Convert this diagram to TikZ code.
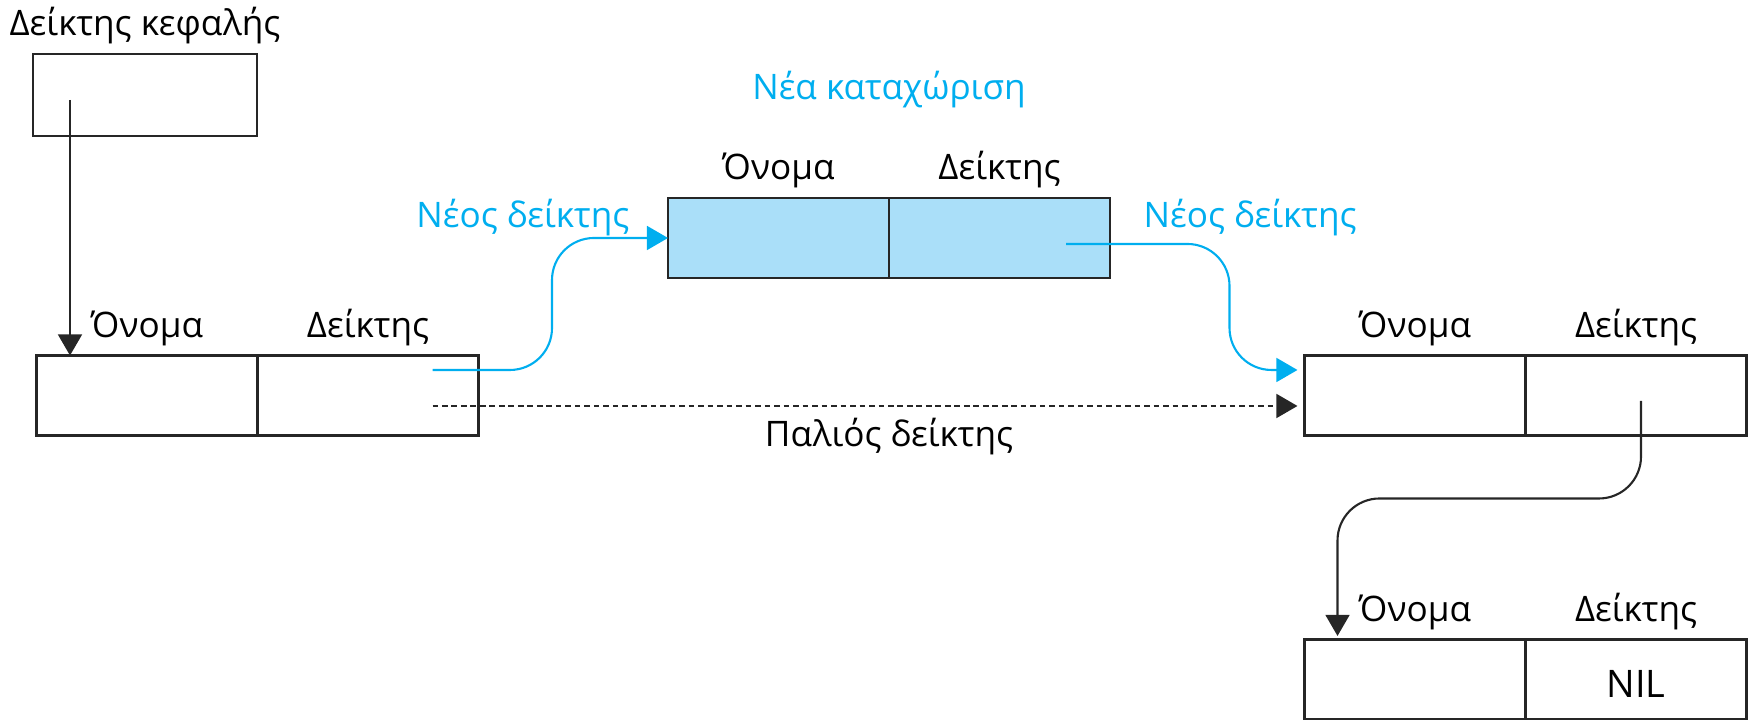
\documentclass[tikz,border=0pt]{standalone}
\usepackage{fontspec}
\setmainfont{Open Sans}
\usetikzlibrary{arrows.meta,positioning,calc}
\definecolor{newblue}{RGB}{0,174,239}
\definecolor{newfill}{RGB}{170,223,249}
\tikzset{
    %Define standard arrow tip
    >={Triangle[length=6pt,width=6.8pt]},
    txt/.style={
      font=\fontsize{10}{12}\selectfont,
      inner sep=0pt},
    newtxt/.style={
      txt,
      text=newblue},
    cell/.style={
      rectangle,
      draw=black!85, line width=0.8pt,
      minimum width=2.21cm,
      minimum height=0.8cm,
      inner sep=0pt, outer sep=0pt},
    newcell/.style={
      cell,
      fill=newfill},
    ptr/.style={
      ->, draw=black!85, line width=0.6pt,
      rounded corners=0.42cm},
    newptr/.style={
      ptr,
      draw=newblue},
    oldptr/.style={
      ->, draw=black!85, line width=0.6pt,
      dash pattern=on 1.6pt off 1.1pt},
}

\begin{document}
\begin{tikzpicture}
    \useasboundingbox (0,0) rectangle (17.5,7.2);
    % head pointer
    \node (head) [cell, minimum width=2.24cm, minimum height=0.82cm] at (1.45,6.25)
          {};
    \node (headlbl) [txt] [above=0.18cm of head, anchor=base]
          {Δείκτης κεφαλής};
    % old first entry
    \node (l1name) [cell] at (1.47,3.245)
          {};
    \node (l1ptr) [cell] [right=0pt of l1name]
          {};
    \node (l1namelbl) [txt] [above=0.18cm of l1name, anchor=base]
          {Όνομα};
    \node (l1ptrlbl) [txt] [above=0.18cm of l1ptr, anchor=base]
          {Δείκτης};
    % new entry
    \node (n1name) [newcell] at (7.785,4.82)
          {};
    \node (n1ptr) [newcell] [right=0pt of n1name]
          {};
    \node (n1namelbl) [txt] [above=0.18cm of n1name, anchor=base]
          {Όνομα};
    \node (n1ptrlbl) [txt] [above=0.18cm of n1ptr, anchor=base]
          {Δείκτης};
    \node (n1title) [newtxt] [above=0.98cm of n1name.north east, anchor=base]
          {Νέα καταχώριση};
    % second entry
    \node (r1name) [cell] at (14.15,3.245)
          {};
    \node (r1ptr) [cell] [right=0pt of r1name]
          {};
    \node (r1namelbl) [txt] [above=0.18cm of r1name, anchor=base]
          {Όνομα};
    \node (r1ptrlbl) [txt] [above=0.18cm of r1ptr, anchor=base]
          {Δείκτης};
    % last entry
    \node (b1name) [cell] [below=2.04cm of r1name]
          {};
    \node (b1ptr) [cell] [right=0pt of b1name]
          {};
    \node (b1namelbl) [txt] [above=0.18cm of b1name, anchor=base]
          {Όνομα};
    \node (b1ptrlbl) [txt] [above=0.18cm of b1ptr, anchor=base]
          {Δείκτης};
    \node (nil) [txt, font=\fontsize{10.8}{13}\selectfont, anchor=base] at ($(b1ptr.center)+(0,-0.18)$)
          {NIL};
    % labels of the pointers
    \node (newlbl1) [newtxt, anchor=base east] at ($(n1name.north west)+(-0.38,-0.30)$)
          {Νέος δείκτης};
    \node (newlbl2) [newtxt, anchor=base west] at ($(n1ptr.north east)+(0.33,-0.30)$)
          {Νέος δείκτης};
    \node (oldlbl) [txt, anchor=base] at ($(n1name.east |- l1ptr.center)+(0,-0.515)$)
          {Παλιός δείκτης};
    % end points
    \coordinate (headout) at ($(head.west)+(0.37,-0.05)$);
    \coordinate (l1out) at ($(l1ptr.east)+(-0.46,0.255)$);
    \coordinate (l1dash) at ($(l1ptr.east)+(-0.46,-0.105)$);
    \coordinate (l1bend) at ($(n1name.west)+(-1.16,0)$);
    \coordinate (n1out) at ($(n1ptr.east)+(-0.44,-0.06)$);
    \coordinate (r1in) at ($(r1name.west)+(0,0.255)$);
    \coordinate (n1bend) at ($(r1in)+(-0.75,0)$);
    \coordinate (r1out) at ($(r1ptr.center)+(0.05,-0.055)$);
    \coordinate (b1in) at ($(b1name.north west)+(0.33,0)$);
    \coordinate (r1mid) at ($(b1in)+(0,1.41)$);
    % pointers
    \draw [ptr] (headout) -- (headout |- l1name.north);
    \draw [newptr] (l1out) -| (l1bend) -- (n1name.west);
    \draw [newptr, shorten >=2pt] (n1out) -| (n1bend) -- (r1in);
    \draw [oldptr, shorten >=2pt] (l1dash) -- (l1dash -| r1name.west);
    \draw [ptr, shorten >=1pt] (r1out) |- (r1mid) -- (b1in);
\end{tikzpicture}
\end{document}
